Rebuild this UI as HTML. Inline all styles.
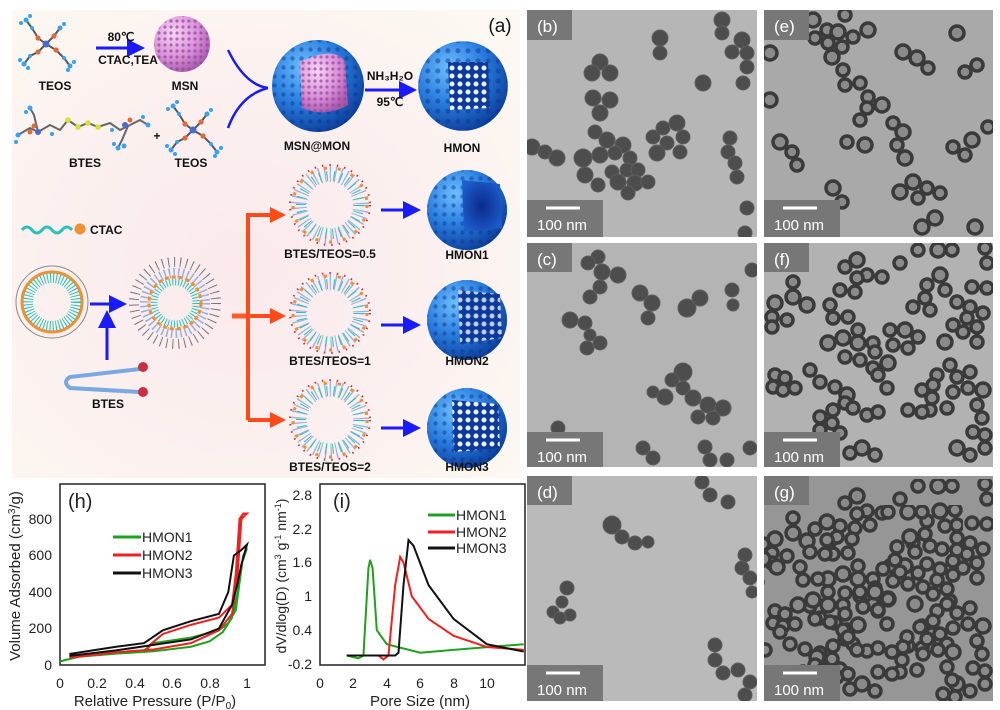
<!DOCTYPE html>
<html><head><meta charset="utf-8"><style>
html,body{margin:0;padding:0;background:#fff;}
svg{display:block;font-family:"Liberation Sans",Arial,sans-serif;}
.d{fill:#4d4d4d;stroke:#5e5e5e;stroke-width:1}
.r{fill:#8a8a8a;stroke:#3a3a3a;stroke-width:3.5}
.lb{font-size:12px;font-weight:bold;fill:#111;text-anchor:middle}
.tk{font-size:14px;fill:#222}
</style></head><body>
<svg width="1000" height="710" viewBox="0 0 1000 710" xmlns="http://www.w3.org/2000/svg">
<defs>
<radialGradient id="bgA" cx="0.45" cy="0.55" r="0.7">
<stop offset="0" stop-color="#fbe9ec"/><stop offset="0.6" stop-color="#fbf1ef"/><stop offset="1" stop-color="#fdf8f1"/></radialGradient>
<radialGradient id="blue" cx="0.35" cy="0.3" r="0.75">
<stop offset="0" stop-color="#6ec0ff"/><stop offset="0.5" stop-color="#2b7fe0"/><stop offset="1" stop-color="#0b3d9a"/></radialGradient>
<radialGradient id="inner" cx="0.5" cy="0.5" r="0.6">
<stop offset="0" stop-color="#0a2a8a"/><stop offset="1" stop-color="#1d5fd0"/></radialGradient>
<radialGradient id="pink" cx="0.35" cy="0.3" r="0.75">
<stop offset="0" stop-color="#f6d6f4"/><stop offset="0.6" stop-color="#d890d8"/><stop offset="1" stop-color="#a45aa8"/></radialGradient>
<pattern id="pdot" width="6" height="6" patternUnits="userSpaceOnUse"><circle cx="3" cy="3" r="1.6" fill="#9a3f9e" opacity="0.7"/></pattern>
<pattern id="bdot" width="9" height="9" patternUnits="userSpaceOnUse"><circle cx="4.5" cy="4.5" r="2.2" fill="#0a3590" opacity="0.8"/></pattern>
<pattern id="wdot" width="8" height="8" patternUnits="userSpaceOnUse"><circle cx="4" cy="4" r="2.5" fill="#e8f2ff"/></pattern>
<marker id="ab" markerWidth="6" markerHeight="6" refX="5" refY="3" orient="auto" markerUnits="strokeWidth"><path d="M0,0 L6,3 L0,6 z" fill="#1a1aff"/></marker>
<marker id="ao" markerWidth="4" markerHeight="4" refX="3" refY="2" orient="auto" markerUnits="strokeWidth"><path d="M0,0 L4,2 L0,4 z" fill="#ff4a1a"/></marker>
<g id="teos">
<g stroke="#555" stroke-width="2" fill="none">
<path d="M28,30 L20,24 L14,14 L8,6"/><path d="M28,30 L36,22 L42,14"/><path d="M28,30 L20,38 L12,42 L6,50"/><path d="M28,30 L38,36 L46,44 L52,52"/></g>
<g fill="#3aa0f0"><circle cx="8" cy="6" r="2.5"/><circle cx="3" cy="9" r="2"/><circle cx="12" cy="2" r="2"/><circle cx="14" cy="14" r="2"/><circle cx="42" cy="14" r="2.5"/><circle cx="46" cy="10" r="2"/><circle cx="6" cy="50" r="2.5"/><circle cx="2" cy="46" r="2"/><circle cx="10" cy="54" r="2"/><circle cx="12" cy="42" r="2"/><circle cx="52" cy="52" r="2.5"/><circle cx="56" cy="48" r="2"/><circle cx="50" cy="56" r="2"/><circle cx="46" cy="44" r="2"/></g>
<g fill="#e06a3a"><circle cx="20" cy="24" r="2.6"/><circle cx="36" cy="22" r="2.6"/><circle cx="20" cy="38" r="2.6"/><circle cx="38" cy="36" r="2.6"/></g>
<circle cx="28" cy="30" r="3.5" fill="#4a6ad0"/>
</g>
<g id="mic">
<circle r="31" fill="none" stroke="#9ab0e0" stroke-width="16" stroke-dasharray="1.2 4"/>
<circle r="29" fill="none" stroke="#2cc0b8" stroke-width="10" stroke-dasharray="1 6"/>
<circle r="37" fill="none" stroke="#f09030" stroke-width="3" stroke-dasharray="3 11"/>
<circle r="40" fill="none" stroke="#d03040" stroke-width="2" stroke-dasharray="1.5 6"/>
</g>
<g id="hmon">
<circle r="40" fill="url(#blue)"/>
<circle r="40" fill="url(#bdot)" opacity="0.6"/>
</g>
</defs>

<!-- panel a -->
<rect x="12" y="10" width="508" height="468" fill="url(#bgA)"/>
<text x="500" y="32" font-size="19" text-anchor="middle" fill="#111">(a)</text>
<use href="#teos" x="18" y="14"/>
<text x="55" y="90" class="lb">TEOS</text>
<line x1="96" y1="48" x2="142" y2="48" stroke="#1a1aff" stroke-width="3" marker-end="url(#ab)"/>
<text x="121" y="41" class="lb" font-size="11">80℃</text>
<text x="128" y="64" class="lb" font-size="11">CTAC,TEA</text>
<circle cx="182" cy="44" r="28" fill="url(#pink)"/><circle cx="182" cy="44" r="28" fill="url(#pdot)"/>
<text x="185" y="90" class="lb">MSN</text>
<!-- BTES molecule -->
<g stroke="#666" stroke-width="2" fill="none"><path d="M18,135 L30,128 L38,132 L50,125 L60,130 L68,120 L78,127 L88,123 L98,127 L110,123 L120,130 L128,126 L140,120 L148,125"/><path d="M38,132 L34,115 L30,108"/><path d="M128,126 L122,140 L118,148"/></g>
<g fill="#3aa0f0"><circle cx="18" cy="135" r="2.5"/><circle cx="16" cy="142" r="2"/><circle cx="30" cy="108" r="2.5"/><circle cx="26" cy="112" r="2"/><circle cx="148" cy="125" r="2.5"/><circle cx="143" cy="117" r="2"/><circle cx="118" cy="148" r="2.5"/><circle cx="124" cy="146" r="2.5"/><circle cx="114" cy="144" r="2"/><circle cx="52" cy="134" r="2"/><circle cx="112" cy="130" r="2"/></g>
<g fill="#d8e030"><circle cx="68" cy="120" r="2.8"/><circle cx="78" cy="127" r="2.8"/><circle cx="88" cy="123" r="2.8"/><circle cx="98" cy="127" r="2.8"/></g>
<g fill="#e06a3a"><circle cx="34" cy="126" r="2.5"/><circle cx="30" cy="132" r="2.5"/><circle cx="130" cy="120" r="2.5"/></g>
<circle cx="38" cy="132" r="3" fill="#4a6ad0"/><circle cx="125" cy="125" r="3" fill="#4a6ad0"/>
<text x="85" y="167" class="lb">BTES</text>
<text x="157" y="140" class="lb" font-size="16">+</text>
<use href="#teos" x="165" y="100"/>
<text x="191" y="167" class="lb">TEOS</text>
<!-- converging curves -->
<path d="M228,50 Q245,85 268,88" fill="none" stroke="#1a1aff" stroke-width="2.5"/>
<path d="M228,128 Q240,95 268,88" fill="none" stroke="#1a1aff" stroke-width="2.5"/>
<!-- MSN@MON -->
<circle cx="318" cy="86" r="46" fill="url(#blue)"/><circle cx="318" cy="86" r="46" fill="url(#bdot)" opacity="0.6"/>
<path d="M300,62 Q335,45 345,62 L348,105 Q325,118 302,108 Z" fill="url(#pink)"/>
<path d="M300,62 Q335,45 345,62 L348,105 Q325,118 302,108 Z" fill="url(#pdot)"/>
<text x="317" y="150" class="lb">MSN@MON</text>
<line x1="365" y1="90" x2="414" y2="90" stroke="#1a1aff" stroke-width="3" marker-end="url(#ab)"/>
<text x="390" y="80" class="lb" font-size="11">NH₃H₂O</text>
<text x="390" y="106" class="lb" font-size="11">95℃</text>
<use href="#hmon" x="463" y="86" transform="translate(463,86) scale(1.12) translate(-463,-86)"/>
<path d="M448,62 L488,62 L490,108 L450,110 Z" fill="#0d3a9a"/><path d="M448,62 L488,62 L490,108 L450,110 Z" fill="url(#wdot)"/>
<text x="462" y="152" class="lb">HMON</text>
<!-- CTAC legend -->
<path d="M22,230 q5,-6 10,0 t10,0 t10,0 t10,0 t10,0" fill="none" stroke="#2cc0b8" stroke-width="3"/>
<circle cx="80" cy="229" r="5.5" fill="#f09030"/>
<text x="90" y="234" font-size="12" font-weight="bold" fill="#111">CTAC</text>
<!-- vesicle -->
<circle cx="52" cy="302" r="36" fill="none" stroke="#888" stroke-width="1"/>
<circle cx="52" cy="302" r="30" fill="none" stroke="#f09030" stroke-width="3"/>
<circle cx="52" cy="302" r="24" fill="none" stroke="#2cc0b8" stroke-width="10" stroke-dasharray="1 2"/>
<line x1="90" y1="304" x2="124" y2="304" stroke="#1a1aff" stroke-width="3" marker-end="url(#ab)"/>
<line x1="107" y1="360" x2="107" y2="313" stroke="#1a1aff" stroke-width="3" marker-end="url(#ab)"/>
<g transform="translate(175,303)">
<circle r="41" fill="none" stroke="#777" stroke-width="10" stroke-dasharray="1 5"/>
<circle r="30" fill="none" stroke="#9ab0e0" stroke-width="10" stroke-dasharray="1.5 3"/>
<circle r="26" fill="none" stroke="#f09030" stroke-width="3" stroke-dasharray="4 3"/>
<circle r="21" fill="none" stroke="#2cc0b8" stroke-width="7" stroke-dasharray="1 2"/>
</g>
<path d="M140,369 L70,377 Q62,382 70,388 L140,392" fill="none" stroke="#7aa8e0" stroke-width="4"/>
<circle cx="143" cy="367" r="5" fill="#c83040"/><circle cx="143" cy="392" r="5" fill="#c83040"/>
<text x="108" y="408" class="lb">BTES</text>
<!-- orange arrows -->
<path d="M232,316 L248,316" stroke="#ff5a2a" stroke-width="5" fill="none"/>
<path d="M248,420 L248,215 L282,215" stroke="#ff4a1a" stroke-width="4" fill="none" marker-end="url(#ao)"/>
<line x1="248" y1="316" x2="282" y2="316" stroke="#ff4a1a" stroke-width="4" marker-end="url(#ao)"/>
<line x1="248" y1="420" x2="282" y2="420" stroke="#ff4a1a" stroke-width="4" marker-end="url(#ao)"/>
<use href="#mic" x="330" y="205"/>
<use href="#mic" x="330" y="313"/>
<use href="#mic" x="330" y="420"/>
<text x="330" y="258" class="lb">BTES/TEOS=0.5</text>
<text x="330" y="365" class="lb">BTES/TEOS=1</text>
<text x="330" y="471" class="lb">BTES/TEOS=2</text>
<line x1="381" y1="210" x2="418" y2="210" stroke="#1a1aff" stroke-width="3" marker-end="url(#ab)"/>
<line x1="381" y1="325" x2="418" y2="325" stroke="#1a1aff" stroke-width="3" marker-end="url(#ab)"/>
<line x1="381" y1="428" x2="418" y2="428" stroke="#1a1aff" stroke-width="3" marker-end="url(#ab)"/>
<use href="#hmon" x="467" y="210"/><path d="M462,180 L500,184 L502,228 L464,232 Z" fill="url(#inner)"/>
<use href="#hmon" x="467" y="320"/><path d="M458,290 L500,294 L502,338 L460,344 Z" fill="#0d3a9a"/><path d="M458,290 L500,294 L502,338 L460,344 Z" fill="url(#wdot)" opacity="0.8"/>
<use href="#hmon" x="467" y="428"/><path d="M452,400 L498,404 L500,448 L454,452 Z" fill="#0d3a9a"/><path d="M452,400 L498,404 L500,448 L454,452 Z" fill="url(#wdot)"/>
<text x="467" y="259" class="lb">HMON1</text>
<text x="467" y="365" class="lb">HMON2</text>
<text x="467" y="471" class="lb">HMON3</text>

<!-- TEM panels -->
<g>
<rect x="527" y="10" width="230" height="227" fill="#b6b6b6"/>
<rect x="527" y="243" width="230" height="224" fill="#b4b4b4"/>
<rect x="527" y="476" width="230" height="225" fill="#bababa"/>
<rect x="764" y="10" width="229" height="227" fill="#a9a9a9"/>
<rect x="764" y="243" width="229" height="224" fill="#b2b2b2"/>
<rect x="764" y="476" width="229" height="225" fill="#969696"/>
</g>
<clipPath id="cb"><rect x="527" y="10" width="230" height="227"/></clipPath>
<clipPath id="cc"><rect x="527" y="243" width="230" height="224"/></clipPath>
<clipPath id="cd"><rect x="527" y="476" width="230" height="225"/></clipPath>
<clipPath id="ce"><rect x="764" y="10" width="229" height="227"/></clipPath>
<clipPath id="cf"><rect x="764" y="243" width="229" height="224"/></clipPath>
<clipPath id="cg"><rect x="764" y="476" width="229" height="225"/></clipPath>
<g clip-path="url(#cb)">
<circle class="d" cx="660" cy="38" r="8"/><circle class="d" cx="660" cy="53" r="7"/><circle class="d" cx="722" cy="20" r="8"/><circle class="d" cx="722" cy="33" r="7"/><circle class="d" cx="742" cy="40" r="8"/><circle class="d" cx="732" cy="52" r="7"/><circle class="d" cx="747" cy="53" r="7"/><circle class="d" cx="747" cy="67" r="7"/><circle class="d" cx="743" cy="83" r="7"/><circle class="d" cx="703" cy="83" r="8"/><circle class="d" cx="600" cy="62" r="8"/><circle class="d" cx="592" cy="73" r="8"/><circle class="d" cx="610" cy="73" r="8"/><circle class="d" cx="593" cy="98" r="8"/><circle class="d" cx="610" cy="100" r="8"/><circle class="d" cx="600" cy="113" r="8"/><circle class="d" cx="595" cy="132" r="7"/><circle class="d" cx="607" cy="140" r="8"/><circle class="d" cx="623" cy="145" r="8"/><circle class="d" cx="600" cy="155" r="8"/><circle class="d" cx="583" cy="158" r="9"/><circle class="d" cx="615" cy="153" r="7"/><circle class="d" cx="630" cy="158" r="7"/><circle class="d" cx="585" cy="175" r="8"/><circle class="d" cx="598" cy="185" r="7"/><circle class="d" cx="612" cy="172" r="7"/><circle class="d" cx="627" cy="170" r="7"/><circle class="d" cx="638" cy="170" r="7"/><circle class="d" cx="618" cy="182" r="8"/><circle class="d" cx="635" cy="183" r="8"/><circle class="d" cx="648" cy="182" r="7"/><circle class="d" cx="628" cy="193" r="7"/><circle class="d" cx="653" cy="137" r="7"/><circle class="d" cx="663" cy="128" r="7"/><circle class="d" cx="677" cy="123" r="8"/><circle class="d" cx="683" cy="137" r="7"/><circle class="d" cx="667" cy="143" r="7"/><circle class="d" cx="657" cy="153" r="8"/><circle class="d" cx="680" cy="152" r="7"/><circle class="d" cx="730" cy="138" r="7"/><circle class="d" cx="728" cy="152" r="7"/><circle class="d" cx="735" cy="163" r="7"/><circle class="d" cx="737" cy="177" r="7"/><circle class="d" cx="532" cy="147" r="8"/><circle class="d" cx="545" cy="152" r="7"/><circle class="d" cx="557" cy="158" r="8"/><circle class="d" cx="747" cy="208" r="7"/><circle class="d" cx="745" cy="233" r="7"/>
</g>
<g clip-path="url(#cc)">
<circle class="d" cx="598" cy="257" r="7"/><circle class="d" cx="588" cy="263" r="7"/><circle class="d" cx="602" cy="272" r="8"/><circle class="d" cx="618" cy="275" r="8"/><circle class="d" cx="600" cy="287" r="7"/><circle class="d" cx="590" cy="297" r="7"/><circle class="d" cx="640" cy="293" r="8"/><circle class="d" cx="652" cy="303" r="8"/><circle class="d" cx="648" cy="318" r="7"/><circle class="d" cx="687" cy="308" r="9"/><circle class="d" cx="700" cy="298" r="8"/><circle class="d" cx="732" cy="290" r="7"/><circle class="d" cx="733" cy="305" r="6"/><circle class="d" cx="752" cy="270" r="7"/><circle class="d" cx="570" cy="320" r="8"/><circle class="d" cx="585" cy="323" r="7"/><circle class="d" cx="590" cy="335" r="6"/><circle class="d" cx="600" cy="343" r="7"/><circle class="d" cx="587" cy="348" r="7"/><circle class="d" cx="683" cy="372" r="9"/><circle class="d" cx="672" cy="380" r="7"/><circle class="d" cx="653" cy="392" r="6"/><circle class="d" cx="665" cy="397" r="8"/><circle class="d" cx="683" cy="388" r="7"/><circle class="d" cx="693" cy="398" r="8"/><circle class="d" cx="708" cy="405" r="8"/><circle class="d" cx="723" cy="408" r="8"/><circle class="d" cx="698" cy="417" r="7"/><circle class="d" cx="713" cy="418" r="7"/><circle class="d" cx="558" cy="428" r="7"/><circle class="d" cx="643" cy="448" r="7"/><circle class="d" cx="653" cy="458" r="7"/><circle class="d" cx="705" cy="447" r="7"/><circle class="d" cx="710" cy="460" r="7"/><circle class="d" cx="727" cy="460" r="7"/><circle class="d" cx="750" cy="448" r="7"/>
</g>
<g clip-path="url(#cd)">
<circle class="d" cx="702" cy="482" r="7"/><circle class="d" cx="710" cy="495" r="7"/><circle class="d" cx="728" cy="502" r="7"/><circle class="d" cx="612" cy="525" r="9"/><circle class="d" cx="622" cy="537" r="7"/><circle class="d" cx="635" cy="543" r="7"/><circle class="d" cx="648" cy="542" r="6"/><circle class="d" cx="567" cy="588" r="7"/><circle class="d" cx="562" cy="602" r="6"/><circle class="d" cx="553" cy="612" r="6"/><circle class="d" cx="570" cy="615" r="6"/><circle class="d" cx="560" cy="618" r="6"/><circle class="d" cx="745" cy="555" r="7"/><circle class="d" cx="742" cy="568" r="7"/><circle class="d" cx="750" cy="578" r="7"/><circle class="d" cx="752" cy="592" r="6"/><circle class="d" cx="715" cy="645" r="7"/><circle class="d" cx="715" cy="660" r="7"/><circle class="d" cx="723" cy="673" r="7"/><circle class="d" cx="738" cy="670" r="7"/><circle class="d" cx="750" cy="682" r="7"/><circle class="d" cx="745" cy="695" r="7"/>
</g>
<g clip-path="url(#ce)">
<circle class="r" cx="813" cy="20" r="7"/><circle class="r" cx="845" cy="15" r="6"/><circle class="r" cx="827" cy="30" r="6"/><circle class="r" cx="815" cy="38" r="6"/><circle class="r" cx="838" cy="32" r="7"/><circle class="r" cx="853" cy="37" r="6"/><circle class="r" cx="868" cy="30" r="7"/><circle class="r" cx="828" cy="43" r="6"/><circle class="r" cx="842" cy="47" r="6"/><circle class="r" cx="832" cy="57" r="7"/><circle class="r" cx="770" cy="53" r="7"/><circle class="r" cx="843" cy="70" r="6"/><circle class="r" cx="845" cy="85" r="6"/><circle class="r" cx="860" cy="83" r="6"/><circle class="r" cx="868" cy="97" r="6"/><circle class="r" cx="867" cy="108" r="6"/><circle class="r" cx="882" cy="105" r="7"/><circle class="r" cx="860" cy="120" r="6"/><circle class="r" cx="770" cy="100" r="7"/><circle class="r" cx="957" cy="33" r="7"/><circle class="r" cx="903" cy="52" r="7"/><circle class="r" cx="917" cy="58" r="7"/><circle class="r" cx="928" cy="68" r="6"/><circle class="r" cx="965" cy="72" r="6"/><circle class="r" cx="977" cy="65" r="6"/><circle class="r" cx="893" cy="123" r="6"/><circle class="r" cx="903" cy="132" r="7"/><circle class="r" cx="897" cy="145" r="6"/><circle class="r" cx="905" cy="158" r="7"/><circle class="r" cx="847" cy="142" r="6"/><circle class="r" cx="865" cy="145" r="7"/><circle class="r" cx="780" cy="142" r="7"/><circle class="r" cx="792" cy="152" r="6"/><circle class="r" cx="797" cy="165" r="6"/><circle class="r" cx="953" cy="147" r="6"/><circle class="r" cx="972" cy="140" r="7"/><circle class="r" cx="965" cy="155" r="6"/><circle class="r" cx="988" cy="127" r="6"/><circle class="r" cx="833" cy="188" r="7"/><circle class="r" cx="842" cy="202" r="6"/><circle class="r" cx="913" cy="182" r="7"/><circle class="r" cx="900" cy="192" r="7"/><circle class="r" cx="927" cy="188" r="6"/><circle class="r" cx="940" cy="193" r="6"/><circle class="r" cx="918" cy="198" r="6"/><circle class="r" cx="935" cy="218" r="7"/><circle class="r" cx="922" cy="227" r="7"/><circle class="r" cx="975" cy="227" r="7"/>
</g>
<g id="fset" clip-path="url(#cf)">
<circle class="r" cx="857" cy="260" r="7"/><circle class="r" cx="845" cy="267" r="6"/><circle class="r" cx="867" cy="275" r="6"/><circle class="r" cx="857" cy="278" r="6"/><circle class="r" cx="882" cy="277" r="6"/><circle class="r" cx="900" cy="263" r="6"/><circle class="r" cx="918" cy="250" r="6"/><circle class="r" cx="938" cy="250" r="7"/><circle class="r" cx="952" cy="250" r="6"/><circle class="r" cx="985" cy="248" r="6"/><circle class="r" cx="987" cy="263" r="6"/><circle class="r" cx="793" cy="282" r="6"/><circle class="r" cx="793" cy="297" r="7"/><circle class="r" cx="775" cy="303" r="7"/><circle class="r" cx="807" cy="305" r="7"/><circle class="r" cx="772" cy="317" r="6"/><circle class="r" cx="787" cy="320" r="6"/><circle class="r" cx="772" cy="327" r="6"/><circle class="r" cx="840" cy="290" r="6"/><circle class="r" cx="855" cy="292" r="6"/><circle class="r" cx="830" cy="305" r="6"/><circle class="r" cx="833" cy="318" r="6"/><circle class="r" cx="848" cy="317" r="6"/><circle class="r" cx="940" cy="275" r="7"/><circle class="r" cx="927" cy="285" r="6"/><circle class="r" cx="945" cy="290" r="6"/><circle class="r" cx="957" cy="302" r="6"/><circle class="r" cx="972" cy="287" r="6"/><circle class="r" cx="987" cy="288" r="6"/><circle class="r" cx="913" cy="307" r="6"/><circle class="r" cx="925" cy="298" r="6"/><circle class="r" cx="930" cy="310" r="6"/><circle class="r" cx="970" cy="307" r="6"/><circle class="r" cx="983" cy="313" r="6"/><circle class="r" cx="967" cy="318" r="6"/><circle class="r" cx="977" cy="327" r="6"/><circle class="r" cx="963" cy="332" r="6"/><circle class="r" cx="977" cy="342" r="6"/><circle class="r" cx="945" cy="342" r="7"/><circle class="r" cx="953" cy="325" r="6"/><circle class="r" cx="858" cy="330" r="6"/><circle class="r" cx="828" cy="343" r="7"/><circle class="r" cx="843" cy="338" r="7"/><circle class="r" cx="858" cy="343" r="7"/><circle class="r" cx="873" cy="343" r="6"/><circle class="r" cx="890" cy="330" r="6"/><circle class="r" cx="905" cy="330" r="7"/><circle class="r" cx="918" cy="337" r="6"/><circle class="r" cx="893" cy="345" r="6"/><circle class="r" cx="908" cy="348" r="6"/><circle class="r" cx="845" cy="357" r="6"/><circle class="r" cx="860" cy="360" r="6"/><circle class="r" cx="875" cy="352" r="6"/><circle class="r" cx="888" cy="363" r="7"/><circle class="r" cx="873" cy="368" r="6"/><circle class="r" cx="810" cy="370" r="6"/><circle class="r" cx="820" cy="382" r="6"/><circle class="r" cx="775" cy="375" r="6"/><circle class="r" cx="785" cy="378" r="6"/><circle class="r" cx="773" cy="387" r="6"/><circle class="r" cx="783" cy="390" r="6"/><circle class="r" cx="795" cy="388" r="6"/><circle class="r" cx="835" cy="387" r="6"/><circle class="r" cx="847" cy="395" r="7"/><circle class="r" cx="878" cy="375" r="6"/><circle class="r" cx="887" cy="388" r="6"/><circle class="r" cx="937" cy="375" r="6"/><circle class="r" cx="950" cy="365" r="6"/><circle class="r" cx="957" cy="377" r="6"/><circle class="r" cx="970" cy="372" r="6"/><circle class="r" cx="922" cy="390" r="6"/><circle class="r" cx="933" cy="385" r="6"/><circle class="r" cx="953" cy="392" r="6"/><circle class="r" cx="968" cy="388" r="6"/><circle class="r" cx="983" cy="390" r="7"/><circle class="r" cx="932" cy="398" r="6"/><circle class="r" cx="930" cy="410" r="6"/><circle class="r" cx="908" cy="410" r="6"/><circle class="r" cx="922" cy="412" r="6"/><circle class="r" cx="947" cy="408" r="6"/><circle class="r" cx="977" cy="405" r="6"/><circle class="r" cx="982" cy="418" r="6"/><circle class="r" cx="973" cy="432" r="6"/><circle class="r" cx="985" cy="435" r="6"/><circle class="r" cx="957" cy="448" r="7"/><circle class="r" cx="970" cy="455" r="6"/><circle class="r" cx="985" cy="448" r="6"/><circle class="r" cx="820" cy="417" r="6"/><circle class="r" cx="833" cy="410" r="6"/><circle class="r" cx="845" cy="403" r="6"/><circle class="r" cx="853" cy="408" r="6"/><circle class="r" cx="867" cy="415" r="6"/><circle class="r" cx="878" cy="412" r="6"/><circle class="r" cx="832" cy="423" r="6"/><circle class="r" cx="820" cy="430" r="6"/><circle class="r" cx="840" cy="433" r="6"/><circle class="r" cx="862" cy="448" r="7"/><circle class="r" cx="850" cy="453" r="6"/><circle class="r" cx="875" cy="455" r="6"/>
</g>
<g clip-path="url(#cg)">
<g transform="translate(0,236)"><use href="#fset" x="0" y="0"/></g>
<g transform="translate(-30,262)"><use href="#fset" x="0" y="0"/></g>
</g>
<clipPath id="cg2"><rect x="764" y="476" width="229" height="225"/></clipPath>

<!-- TEM labels -->
<g fill="#777">
<rect x="527" y="10" width="45" height="30"/><rect x="527" y="243" width="45" height="29"/><rect x="527" y="476" width="45" height="29"/>
<rect x="764" y="10" width="45" height="30"/><rect x="764" y="243" width="45" height="29"/><rect x="764" y="476" width="45" height="29"/>
<rect x="527" y="200" width="76" height="37"/><rect x="527" y="432" width="76" height="35"/><rect x="527" y="665" width="76" height="36"/>
<rect x="764" y="200" width="76" height="37"/><rect x="764" y="432" width="76" height="35"/><rect x="764" y="665" width="76" height="36"/>
</g>
<g fill="#fff" font-size="17">
<text x="537" y="32">(b)</text><text x="537" y="265">(c)</text><text x="537" y="498">(d)</text>
<text x="774" y="32">(e)</text><text x="774" y="265">(f)</text><text x="774" y="498">(g)</text>
</g>
<g stroke="#fff" stroke-width="3">
<line x1="546" y1="208" x2="580" y2="208"/><line x1="546" y1="440" x2="580" y2="440"/><line x1="546" y1="673" x2="580" y2="673"/>
<line x1="783" y1="208" x2="817" y2="208"/><line x1="783" y1="440" x2="817" y2="440"/><line x1="783" y1="673" x2="817" y2="673"/>
</g>
<g fill="#fff" font-size="15">
<text x="537" y="230">100 nm</text><text x="537" y="462">100 nm</text><text x="537" y="695">100 nm</text>
<text x="774" y="230">100 nm</text><text x="774" y="462">100 nm</text><text x="774" y="695">100 nm</text>
</g>

<!-- chart h -->
<rect x="60" y="484" width="205" height="181" fill="none" stroke="#222" stroke-width="1.5"/>
<g class="tk" text-anchor="end">
<text x="52" y="670">0</text><text x="52" y="633">200</text><text x="52" y="597">400</text><text x="52" y="560">600</text><text x="52" y="524">800</text></g>
<g class="tk" text-anchor="middle">
<text x="60" y="688">0</text><text x="97" y="688">0.2</text><text x="135" y="688">0.4</text><text x="172" y="688">0.6</text><text x="210" y="688">0.8</text><text x="247" y="688">1</text></g>
<text x="155" y="706" font-size="15" text-anchor="middle" fill="#222">Relative Pressure (P/P<tspan font-size="10" dy="3">0</tspan><tspan dy="-3">)</tspan></text>
<text transform="translate(20,576) rotate(-90)" font-size="15" text-anchor="middle" fill="#222">Volume Adsorbed (cm<tspan font-size="10" dy="-5">3</tspan><tspan dy="5">/g)</tspan></text>
<text x="68" y="508" font-size="20" fill="#222">(h)</text>
<g transform="translate(60,665) scale(187,-0.1825)" fill="none" stroke-width="2">
<polyline vector-effect="non-scaling-stroke" stroke="#20a020" points="0,20 0.1,45 0.3,62 0.5,75 0.7,100 0.8,130 0.87,180 0.92,260 0.95,400 0.97,550 1,640 0.98,600 0.96,450 0.94,300 0.9,230 0.85,190 0.7,150 0.5,120 0.45,80"/>
<polyline vector-effect="non-scaling-stroke" stroke="#f02020" points="0.05,40 0.3,70 0.5,85 0.7,120 0.85,190 0.92,280 0.95,500 0.97,800 1,830 0.98,830 0.96,800 0.94,500 0.92,330 0.85,260 0.7,220 0.55,170 0.48,110 0.46,75"/>
<polyline vector-effect="non-scaling-stroke" stroke="#111" points="0.05,50 0.3,80 0.5,110 0.7,140 0.85,200 0.92,330 0.95,450 0.97,550 1,660 0.97,630 0.93,600 0.9,400 0.85,280 0.7,240 0.55,190 0.45,120 0.3,100 0.05,60"/>
</g>
<g stroke-width="3"><line x1="113" y1="537" x2="141" y2="537" stroke="#20a020"/><line x1="113" y1="555" x2="141" y2="555" stroke="#f02020"/><line x1="113" y1="573" x2="141" y2="573" stroke="#111"/></g>
<g class="tk"><text x="142" y="542">HMON1</text><text x="142" y="560">HMON2</text><text x="142" y="578">HMON3</text></g>

<!-- chart i -->
<rect x="320" y="484" width="205" height="181" fill="none" stroke="#222" stroke-width="1.5"/>
<g class="tk" text-anchor="end">
<text x="312" y="500">2.8</text><text x="312" y="534">2.2</text><text x="312" y="567">1.6</text><text x="312" y="601">1</text><text x="312" y="635">0.4</text><text x="312" y="669">-0.2</text></g>
<g class="tk" text-anchor="middle">
<text x="320" y="688">0</text><text x="353" y="688">2</text><text x="387" y="688">4</text><text x="420" y="688">6</text><text x="454" y="688">8</text><text x="487" y="688">10</text></g>
<text x="420" y="706" font-size="15" text-anchor="middle" fill="#222">Pore Size (nm)</text>
<text transform="translate(286,576) rotate(-90)" font-size="14" text-anchor="middle" fill="#222">dV/dlog(D) (cm<tspan font-size="9" dy="-5">3</tspan><tspan dy="5"> g</tspan><tspan font-size="9" dy="-5">-1</tspan><tspan dy="5"> nm</tspan><tspan font-size="9" dy="-5">-1</tspan><tspan dy="5">)</tspan></text>
<text x="333" y="508" font-size="20" fill="#222">(i)</text>
<g transform="translate(320,652.7) scale(16.7,-56.3)" fill="none" stroke-width="2">
<polyline vector-effect="non-scaling-stroke" stroke="#20a020" points="1.6,-0.05 2.3,-0.1 2.6,-0.05 2.9,1.5 3,1.65 3.15,1.5 3.4,0.4 4,0.15 6,0 8,0.05 10,0.1 12.2,0.15"/>
<polyline vector-effect="non-scaling-stroke" stroke="#f02020" points="1.6,-0.05 3.5,-0.05 3.8,-0.12 4.1,-0.05 4.5,1.2 4.8,1.7 5,1.6 5.5,1 6.5,0.6 8,0.3 10,0.1 12.2,0.05"/>
<polyline vector-effect="non-scaling-stroke" stroke="#111" points="1.6,-0.05 4.5,-0.05 4.7,0 5,1.2 5.3,2 5.6,1.9 6.5,1.2 8,0.6 10,0.15 12.2,0.02"/>
</g>
<g stroke-width="3"><line x1="428" y1="515" x2="455" y2="515" stroke="#20a020"/><line x1="428" y1="532" x2="455" y2="532" stroke="#f02020"/><line x1="428" y1="548" x2="455" y2="548" stroke="#111"/></g>
<g class="tk"><text x="456" y="520">HMON1</text><text x="456" y="537">HMON2</text><text x="456" y="553">HMON3</text></g>
</svg>
</body></html>
